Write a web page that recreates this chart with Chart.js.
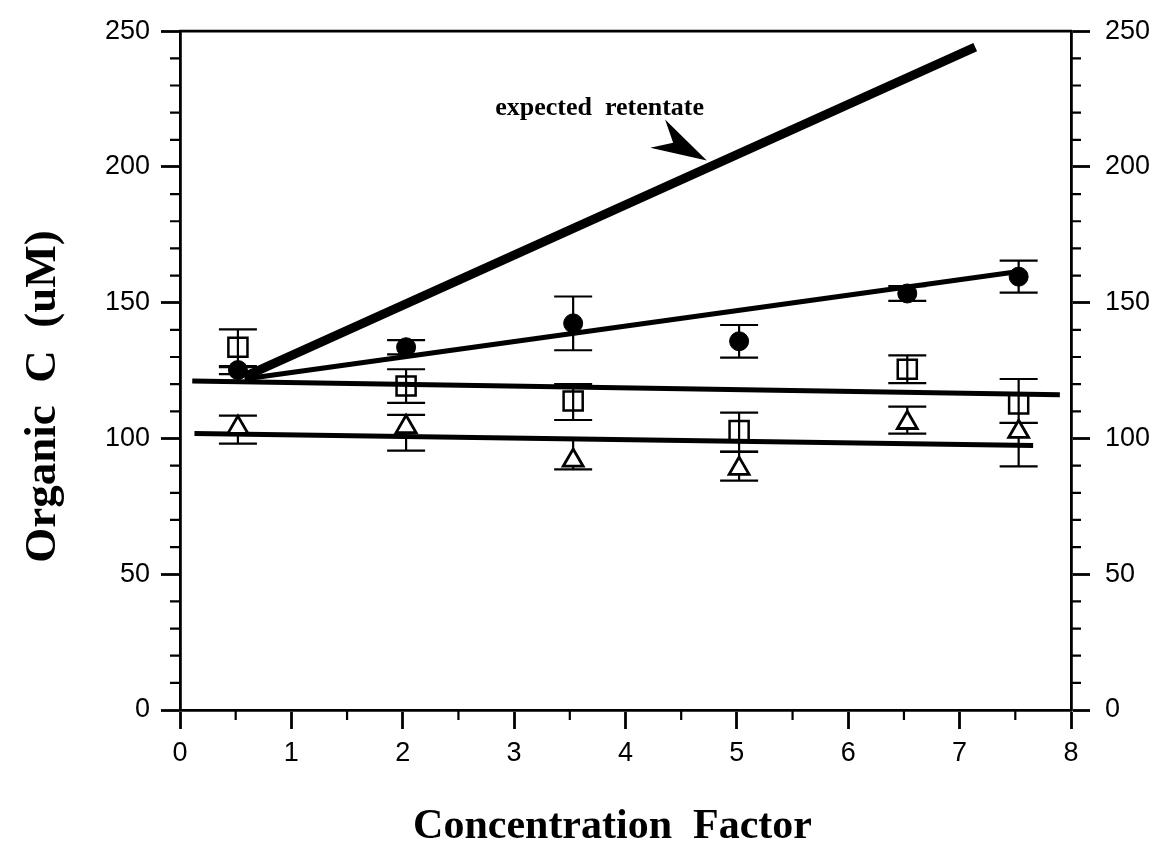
<!DOCTYPE html>
<html>
<head>
<meta charset="utf-8">
<script src="https://cdn.jsdelivr.net/npm/chart.js@4/dist/chart.umd.min.js"></script>
<style>
  html, body { margin: 0; padding: 0; background: #fff; }
  #wrap { width: 1167px; height: 861px; }
</style>
</head>
<body>
<div id="wrap"><canvas id="myChart"></canvas></div>
<script>
// concentration factor of each sample
const concFactor = [0.52, 2.03, 3.53, 5.02, 6.53, 7.53];

// filled circles
const circleC = [125.2, 133.6, 142.4, 135.8, 153.4, 159.6];
const circleErrUp = [1.5, 2.6, 9.9, 6.0, 2.7, 5.9];
const circleErrDown = [1.5, 2.6, 9.9, 6.0, 2.7, 5.9];

// open squares
const squareC = [133.6, 119.3, 113.8, 102.9, 125.5, 112.7];
const squareErrUp = [6.6, 6.2, 6.2, 6.6, 5.1, 9.2];
const squareErrDown = [7.3, 6.2, 7.0, 7.7, 5.1, 7.0];

// open triangles
const triangleC = [104.0, 104.3, 91.9, 88.9, 105.8, 102.5];
const triangleErrUp = [4.4, 4.4, 7.7, 6.2, 5.9, 3.3];
const triangleErrDown = [5.9, 8.8, 3.3, 4.4, 4.0, 12.8];

// straight lines: start and end
const expectedLineX = [0.58, 7.14];
const expectedLineY = [122.8, 244.1];
const circleFitX = [0.58, 7.53];
const circleFitY = [121.9, 161.5];
const squareFitX = [0.11, 7.90];
const squareFitY = [121.2, 116.1];
const triangleFitX = [0.13, 7.66];
const triangleFitY = [101.8, 97.4];

// axes
const xTicks = [0, 1, 2, 3, 4, 5, 6, 7, 8];
const yTicks = [0, 50, 100, 150, 200, 250];
const xMinorStep = 0.5;
const yMinorStep = 10;

const pts = (xs, ys) => xs.map((x, i) => ({ x: x, y: ys[i] }));

const TICK_FONT = { family: 'Liberation Sans, Arial, sans-serif', size: 27 };
const TITLE_FAMILY = '"Liberation Serif", "Times New Roman", serif';

// error bars, drawn under the markers
const errorBars = {
  id: 'errorBars',
  beforeDatasetsDraw(chart) {
    const ctx = chart.ctx;
    const yScale = chart.scales.y;
    ctx.save();
    ctx.strokeStyle = '#000';
    ctx.lineWidth = 2.2;
    chart.data.datasets.forEach((ds, di) => {
      if (!ds.errUp) return;
      const meta = chart.getDatasetMeta(di);
      meta.data.forEach((el, i) => {
        const v = ds.data[i].y;
        const yTop = yScale.getPixelForValue(v + ds.errUp[i]);
        const yBot = yScale.getPixelForValue(v - ds.errDown[i]);
        const cx = el.x, hw = 19;
        ctx.beginPath();
        ctx.moveTo(cx, yTop); ctx.lineTo(cx, yBot);
        ctx.moveTo(cx - hw, yTop); ctx.lineTo(cx + hw, yTop);
        ctx.moveTo(cx - hw, yBot); ctx.lineTo(cx + hw, yBot);
        ctx.stroke();
      });
    });
    ctx.restore();
  }
};

// minor ticks, top frame line, axis titles and the note
const decorations = {
  id: 'decorations',
  afterDraw(chart) {
    const ctx = chart.ctx;
    const { left, right, top, bottom } = chart.chartArea;
    const xs = chart.scales.x, ys = chart.scales.y;
    ctx.save();
    ctx.strokeStyle = '#000';
    ctx.lineWidth = 2.8;

    // top frame
    ctx.beginPath();
    ctx.moveTo(left - 1, top); ctx.lineTo(right + 1, top);
    ctx.stroke();

    // minor ticks
    ctx.lineWidth = 2.2;
    ctx.beginPath();
    for (let v = ys.min; v <= ys.max; v += yMinorStep) {
      if (v % 50 === 0) continue;
      const py = ys.getPixelForValue(v);
      ctx.moveTo(left - 10, py); ctx.lineTo(left, py);
      ctx.moveTo(right, py); ctx.lineTo(right + 10, py);
    }
    for (let v = xs.min; v <= xs.max; v += xMinorStep) {
      if (Number.isInteger(v)) continue;
      const px = xs.getPixelForValue(v);
      ctx.moveTo(px, bottom); ctx.lineTo(px, bottom + 10);
    }
    ctx.stroke();

    // axis titles
    ctx.fillStyle = '#000';
    ctx.font = 'bold 45px ' + TITLE_FAMILY;
    ctx.textAlign = 'center';
    ctx.textBaseline = 'alphabetic';
    ctx.save();
    ctx.translate(left - 125, (top + bottom) / 2 + 26);
    ctx.rotate(-Math.PI / 2);
    ctx.fillText('Organic  C  (uM)', 0, 0);
    ctx.restore();

    ctx.font = 'bold 42px ' + TITLE_FAMILY;
    ctx.fillText('Concentration  Factor', (left + right) / 2 - 13, bottom + 128);

    // note with arrow
    ctx.font = 'bold 26px ' + TITLE_FAMILY;
    ctx.textAlign = 'left';
    ctx.fillText('expected  retentate', xs.getPixelForValue(2.83), ys.getPixelForValue(219));

    const tx = xs.getPixelForValue(4.73), ty = ys.getPixelForValue(202.4);
    const ang = Math.atan2(22, 42);
    ctx.save();
    ctx.translate(tx, ty);
    ctx.rotate(ang);
    ctx.beginPath();
    ctx.moveTo(0, 0);
    ctx.lineTo(-56, -17);
    ctx.lineTo(-38, 0);
    ctx.lineTo(-56, 15);
    ctx.closePath();
    ctx.fill();
    ctx.restore();

    ctx.restore();
  }
};

const lineSet = (data, width) => ({
  type: 'line',
  data: data,
  borderColor: '#000',
  borderWidth: width,
  pointRadius: 0,
  fill: false,
  tension: 0
});

const config = {
  type: 'scatter',
  data: {
    datasets: [
      {
        data: pts(concFactor, circleC),
        errUp: circleErrUp, errDown: circleErrDown,
        pointStyle: 'circle', pointRadius: 9.5,
        backgroundColor: '#000', borderColor: '#000', borderWidth: 1
      },
      {
        data: pts(concFactor, squareC),
        errUp: squareErrUp, errDown: squareErrDown,
        pointStyle: 'rect', pointRadius: 13.5,
        backgroundColor: 'rgba(0,0,0,0)', borderColor: '#000', borderWidth: 2.5
      },
      {
        data: pts(concFactor, triangleC),
        errUp: triangleErrUp, errDown: triangleErrDown,
        pointStyle: 'triangle', pointRadius: 11.5,
        backgroundColor: '#fff', borderColor: '#000', borderWidth: 2.8
      },
      lineSet(pts(expectedLineX, expectedLineY), 9),
      lineSet(pts(circleFitX, circleFitY), 5),
      lineSet(pts(squareFitX, squareFitY), 5),
      lineSet(pts(triangleFitX, triangleFitY), 5)
    ]
  },
  options: {
    responsive: true,
    maintainAspectRatio: false,
    animation: false,
    layout: { padding: { top: 27, left: 0, right: 0, bottom: 0 } },
    plugins: {
      legend: { display: false },
      tooltip: { enabled: false }
    },
    scales: {
      x: {
        type: 'linear', position: 'bottom',
        min: 0, max: 8,
        afterBuildTicks: s => { s.ticks = xTicks.map(v => ({ value: v })); },
        afterFit: s => { s.height = 151; },
        ticks: { font: TICK_FONT, color: '#000', padding: 8, maxRotation: 0 },
        grid: { drawOnChartArea: false, tickLength: 19, tickWidth: 2.8, tickColor: '#000' },
        border: { color: '#000', width: 2.8 }
      },
      y: {
        type: 'linear', position: 'left',
        min: 0, max: 250,
        afterBuildTicks: s => { s.ticks = yTicks.map(v => ({ value: v })); },
        afterFit: s => { s.width = 180; },
        ticks: { font: TICK_FONT, color: '#000', padding: 11 },
        grid: { drawOnChartArea: false, tickLength: 19, tickWidth: 2.8, tickColor: '#000' },
        border: { color: '#000', width: 2.8 }
      },
      y2: {
        type: 'linear', position: 'right',
        min: 0, max: 250,
        afterBuildTicks: s => { s.ticks = yTicks.map(v => ({ value: v })); },
        afterFit: s => { s.width = 96; },
        ticks: { font: TICK_FONT, color: '#000', padding: 15 },
        grid: { drawOnChartArea: false, tickLength: 19, tickWidth: 2.8, tickColor: '#000' },
        border: { color: '#000', width: 2.8 }
      }
    }
  },
  plugins: [errorBars, decorations]
};

const ctx = document.getElementById('myChart').getContext('2d');
new Chart(ctx, config);
</script>
</body>
</html>
